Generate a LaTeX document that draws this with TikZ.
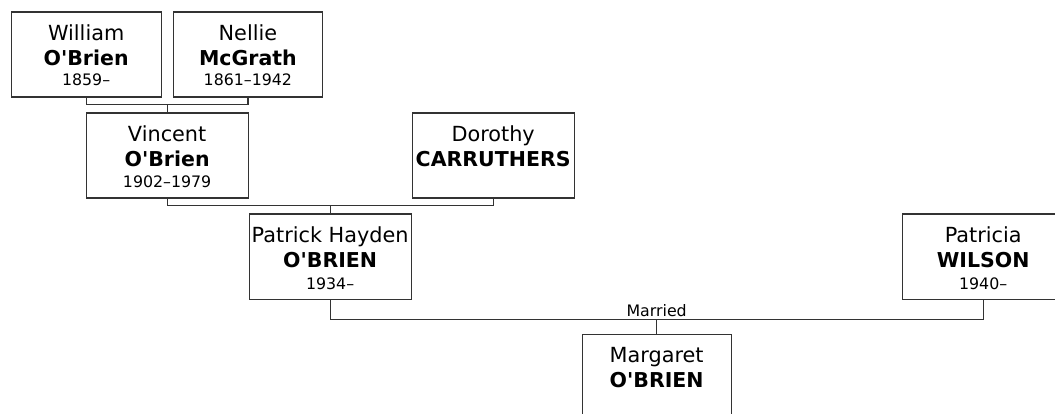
\documentclass[tikz,border=0pt]{standalone}
\usepackage{fontspec}
\setmainfont{DejaVu Sans}
\usetikzlibrary{calc}
\definecolor{linec}{HTML}{333333}
\newcommand{\apos}{\textquotesingle}
\begin{document}
\begin{tikzpicture}[x=1pt,y=-1pt,
  person/.style={draw=linec, line width=1.3pt, fill=white, rectangle, anchor=north west, inner sep=0pt, minimum height=85pt},
  given/.style={anchor=base, font=\fontsize{20.8}{24}\selectfont, inner sep=0pt},
  surname/.style={anchor=base, font=\fontsize{20.5}{24}\selectfont\bfseries, inner sep=0pt},
  years/.style={anchor=base, font=\fontsize{15.8}{18}\selectfont, inner sep=0pt},
  link/.style={draw=linec, line width=1.3pt},
]
\useasboundingbox (0,0) rectangle (1055,414);
\clip (0,0) rectangle (1055,414);

% boxes
\node[person, minimum width=150pt] (wil) at (10.5,11.5) {};
\node[person, minimum width=149.5pt] (nel) at (172.5,11.5) {};
\node[person, minimum width=162pt] (vin) at (85.5,112.5) {};
\node[person, minimum width=162pt] (dor) at (411.5,112.5) {};
\node[person, minimum width=162pt] (pat) at (248.5,213.5) {};
\node[person, minimum width=162pt] (pwi) at (901.5,213.5) {};
\node[person, minimum width=149pt] (mar) at (581.5,333.5) {};

% texts
\node[given]   (wil1) at ($(wil.north)+(0,29)$) {William};
\node[surname] (wil2) at ($(wil.north)+(0,54)$) {O\apos Brien};
\node[years]   (wil3) at ($(wil.north)+(0,74.5)$) {1859–};

\node[given]   (nel1) at ($(nel.north)+(0,29)$) {Nellie};
\node[surname] (nel2) at ($(nel.north)+(0,54)$) {McGrath};
\node[years]   (nel3) at ($(nel.north)+(0,74.5)$) {1861–1942};

\node[given]   (vin1) at ($(vin.north)+(0,29)$) {Vincent};
\node[surname] (vin2) at ($(vin.north)+(0,54.5)$) {O\apos Brien};
\node[years]   (vin3) at ($(vin.north)+(0,75.5)$) {1902–1979};

\node[given]   (dor1) at ($(dor.north)+(0,29)$) {Dorothy};
\node[surname] (dor2) at ($(dor.north)+(0,54.5)$) {CARRUTHERS};

\node[given]   (pat1) at ($(pat.north)+(0,29)$) {Patrick Hayden};
\node[surname] (pat2) at ($(pat.north)+(0,54.5)$) {O\apos BRIEN};
\node[years]   (pat3) at ($(pat.north)+(0,75.5)$) {1934–};

\node[given]   (pwi1) at ($(pwi.north)+(0,29)$) {Patricia};
\node[surname] (pwi2) at ($(pwi.north)+(0,54.5)$) {WILSON};
\node[years]   (pwi3) at ($(pwi.north)+(0,75.5)$) {1940–};

\node[given]   (mar1) at ($(mar.north)+(0,29)$) {Margaret};
\node[surname] (mar2) at ($(mar.north)+(0,54)$) {O\apos BRIEN};

% connectors
\path (wil.south) ++(0,7) coordinate (bar1);
\draw[link] (wil.south) -- (bar1) -| (nel.south);
\draw[link] (vin.north) -- (vin.north |- bar1);

\path (vin.south) ++(0,7) coordinate (bar2);
\draw[link] (vin.south) -- (bar2) -| (dor.south);
\draw[link] (pat.north) -- (pat.north |- bar2);

\path (pat.south) ++(0,20) coordinate (bar3);
\draw[link] (pat.south) -- (bar3) -| (pwi.south);
\draw[link] (mar.north) -- (mar.north |- bar3);
\node[years] (married) at ($(mar.north |- bar3)+(0,-3.5)$) {Married};
\end{tikzpicture}
\end{document}
